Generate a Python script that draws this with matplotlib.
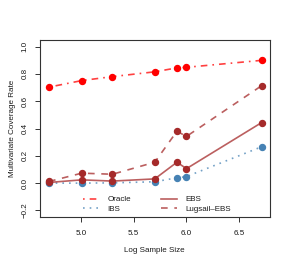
import matplotlib
matplotlib.use("Agg")
import matplotlib.pyplot as plt
from matplotlib.lines import Line2D

log_n = [4.70, 5.01, 5.30, 5.70, 5.91, 6.00, 6.71]
oracle = [0.703, 0.751, 0.780, 0.815, 0.844, 0.848, 0.899]
lugsail = [0.012, 0.073, 0.065, 0.153, 0.380, 0.342, 0.713]
ebs = [0.005, 0.024, 0.015, 0.031, 0.153, 0.106, 0.443]
ibs = [0.000, 0.000, 0.002, 0.010, 0.039, 0.048, 0.266]

xticks = [5.0, 5.5, 6.0, 6.5]
yticks = [-0.2, 0.0, 0.2, 0.4, 0.6, 0.8, 1.0]

plt.rcParams['font.family'] = ['Liberation Sans', 'DejaVu Sans']

RED = '#FF0000'
BROWN = '#A52A2A'
BLUE = '#4682B4'
FS = 5.8
TXT = '#1a1a1a'

fig = plt.figure(figsize=(2.91, 2.67), dpi=100)
ax = fig.add_axes([39.5/291, 1-217/267, (270-39.5)/291, (217-40)/267])

lw = 1.2
ms = 4.3
styles = [
    (oracle, RED, (0, (1, 3, 4, 3)), 'Oracle'),
    (ibs, BLUE, (0, (1, 3)), 'IBS'),
    (ebs, BROWN, '-', 'EBS'),
    (lugsail, BROWN, (0, (4, 4)), 'Lugsail\u2013EBS'),
]
for ys, c, ls, lab in styles:
    ax.plot(log_n, ys, color=c, linestyle=ls, linewidth=lw, alpha=0.75)
    ax.plot(log_n, ys, color=c, linestyle='none', marker='o', markersize=ms)

ax.set_xlim(4.61, 6.79)
ax.set_ylim(-0.248, 1.048)
ax.set_xticks(xticks)
ax.set_xticklabels([f"{t:.1f}" for t in xticks])
ax.set_yticks(yticks)
ax.set_yticklabels([f"{t:.1f}".replace('-', '\u2212') for t in yticks], rotation=90, va='center')
ax.tick_params(labelsize=FS, length=3.3, width=0.7, colors='#333333', labelcolor=TXT)
ax.tick_params(axis='x', pad=5.8)
ax.tick_params(axis='y', pad=4.7)
for s in ax.spines.values():
    s.set_linewidth(0.8)
    s.set_color('#333333')

ax.set_xlabel('Log Sample Size', fontsize=FS, labelpad=7.2, color=TXT)
ax.set_ylabel('Multivariate Coverage Rate', fontsize=FS, labelpad=3.6, color=TXT)

handles = [Line2D([], [], color=c, linestyle=ls, linewidth=lw, alpha=0.75) for _, c, ls, _ in styles]
labels = [s[3] for s in styles]
ax.legend(handles, labels, loc='lower left', bbox_to_anchor=(0.189, 0.022), ncol=2, frameon=False,
          fontsize=FS, handlelength=2.0, handletextpad=1.0, columnspacing=3.75, labelspacing=0.25,
          borderpad=0, borderaxespad=0, labelcolor=TXT)

fig.savefig('out.png', dpi=100)
